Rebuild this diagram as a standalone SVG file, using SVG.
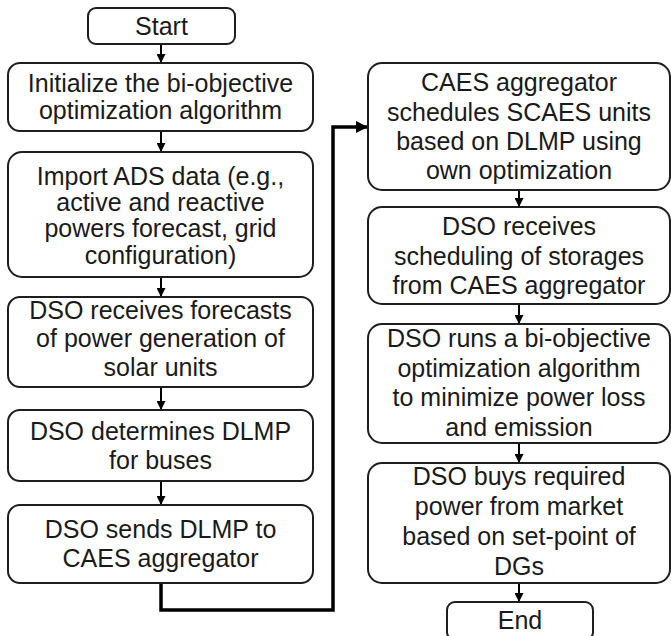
<svg xmlns="http://www.w3.org/2000/svg" width="671" height="636" viewBox="0 0 671 636">
<style>
.box{fill:#fff;stroke:#1e1e1e;stroke-width:2}
.t{font-family:"Liberation Sans",Arial,sans-serif;font-size:25px;fill:#1a1a1a;text-anchor:middle}
.a{fill:none;stroke:#000;stroke-width:2}
.big{fill:none;stroke:#000;stroke-width:3.5;stroke-linejoin:miter}
</style>
<defs>
<marker id="ah" viewBox="0 0 10 10" refX="10" refY="5" markerWidth="10" markerHeight="9" markerUnits="userSpaceOnUse" orient="auto"><path d="M0,0 L10,5 L0,10 z" fill="#000"/></marker>
<marker id="ahb" viewBox="0 0 10 10" refX="10" refY="5" markerWidth="12" markerHeight="12" markerUnits="userSpaceOnUse" orient="auto"><path d="M0,0 L10,5 L0,10 z" fill="#000"/></marker>
</defs>
<rect width="671" height="636" fill="#fff"/>
<g id="connectors">
<line class="a" x1="161" y1="44" x2="161" y2="63" marker-end="url(#ah)"/>
<line class="a" x1="161" y1="131" x2="161" y2="152" marker-end="url(#ah)"/>
<line class="a" x1="161" y1="277" x2="161" y2="297" marker-end="url(#ah)"/>
<line class="a" x1="161" y1="387" x2="161" y2="410" marker-end="url(#ah)"/>
<line class="a" x1="161" y1="481" x2="161" y2="505" marker-end="url(#ah)"/>
<path class="big" d="M161,583 V610 H333 V127 H368" marker-end="url(#ahb)"/>
<line class="a" x1="519" y1="190" x2="519" y2="207" marker-end="url(#ah)"/>
<line class="a" x1="519" y1="304" x2="519" y2="324" marker-end="url(#ah)"/>
<line class="a" x1="519" y1="443" x2="519" y2="463" marker-end="url(#ah)"/>
<line class="a" x1="519" y1="583" x2="519" y2="602" marker-end="url(#ah)"/>
</g>
<g id="start"><rect class="box" x="88" y="8" width="147" height="36" rx="8"/><text class="t" x="161.5" y="35">Start</text></g>
<g id="init"><rect class="box" x="8" y="63" width="305" height="68" rx="12"/><text class="t" x="160.5" y="92">Initialize the bi-objective</text><text class="t" x="160.5" y="119">optimization algorithm</text></g>
<g id="import"><rect class="box" x="8" y="152" width="305" height="125" rx="14"/><text class="t" x="160.5" y="185">Import ADS data (e.g.,</text><text class="t" x="160.5" y="211">active and reactive</text><text class="t" x="160.5" y="237">powers forecast, grid</text><text class="t" x="160.5" y="264">configuration)</text></g>
<g id="forecasts"><rect class="box" x="8" y="297" width="305" height="90" rx="12"/><text class="t" x="160.5" y="319">DSO receives forecasts</text><text class="t" x="160.5" y="347">of power generation of</text><text class="t" x="160.5" y="376">solar units</text></g>
<g id="dlmp"><rect class="box" x="8" y="410" width="305" height="71" rx="12"/><text class="t" x="160.5" y="440">DSO determines DLMP</text><text class="t" x="160.5" y="469">for buses</text></g>
<g id="sends"><rect class="box" x="8" y="505" width="305" height="78" rx="12"/><text class="t" x="160.5" y="538">DSO sends DLMP to</text><text class="t" x="160.5" y="567">CAES aggregator</text></g>
<g id="caes"><rect class="box" x="368" y="63" width="302" height="127" rx="14"/><text class="t" x="519" y="91">CAES aggregator</text><text class="t" x="519" y="120.5">schedules SCAES units</text><text class="t" x="519" y="150">based on DLMP using</text><text class="t" x="519" y="179">own optimization</text></g>
<g id="scheduling"><rect class="box" x="368" y="207" width="302" height="97" rx="14"/><text class="t" x="519" y="235">DSO receives</text><text class="t" x="519" y="264.5">scheduling of storages</text><text class="t" x="519" y="294">from CAES aggregator</text></g>
<g id="runs"><rect class="box" x="368" y="324" width="302" height="119" rx="14"/><text class="t" x="519" y="347">DSO runs a bi-objective</text><text class="t" x="519" y="377">optimization algorithm</text><text class="t" x="519" y="406">to minimize power loss</text><text class="t" x="519" y="436">and emission</text></g>
<g id="buys"><rect class="box" x="368" y="463" width="302" height="120" rx="14"/><text class="t" x="519" y="485">DSO buys required</text><text class="t" x="519" y="515">power from market</text><text class="t" x="519" y="545">based on set-point of</text><text class="t" x="519" y="575">DGs</text></g>
<g id="end"><rect class="box" x="447" y="602" width="146" height="38" rx="8"/><text class="t" x="520" y="629">End</text></g>
</svg>
